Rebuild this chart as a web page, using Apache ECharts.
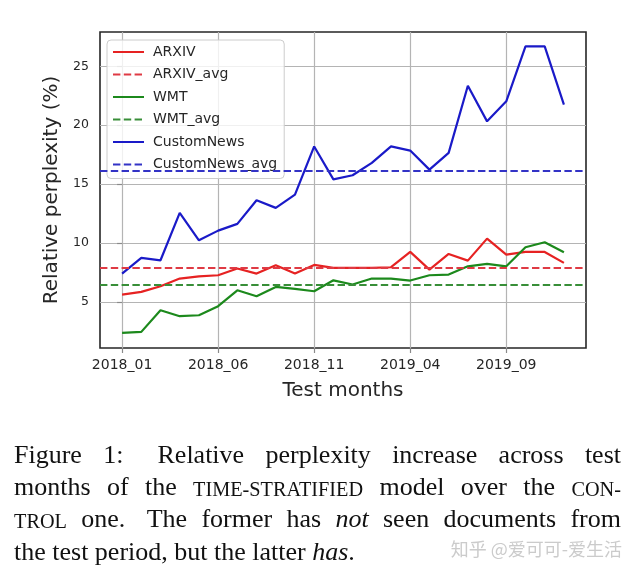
<!DOCTYPE html>
<html><head><meta charset="utf-8">
<script src="https://cdn.jsdelivr.net/npm/echarts@6/dist/echarts.min.js"></script>
<style>html,body{margin:0;padding:0;background:#fff}#c{width:639px;height:575px}</style>
</head><body><div id="c"></div>
<script>
// ---- data ----
const months = ['2018_01','2018_02','2018_03','2018_04','2018_05','2018_06','2018_07','2018_08','2018_09','2018_10','2018_11','2018_12',
                '2019_01','2019_02','2019_03','2019_04','2019_05','2019_06','2019_07','2019_08','2019_09','2019_10','2019_11','2019_12'];
const xTickIdx = [0, 5, 10, 15, 20];
const yTicks = [5, 10, 15, 20, 25];
const arxiv = [5.62,5.85,6.33,6.98,7.17,7.26,7.83,7.40,8.11,7.40,8.14,7.88,7.88,7.88,7.94,9.24,7.74,9.07,8.50,10.37,9.01,9.24,9.24,8.31];
const wmt = [2.37,2.45,4.29,3.78,3.86,4.63,5.98,5.48,6.27,6.10,5.90,6.83,6.47,6.98,6.98,6.81,7.26,7.32,8.02,8.22,8.02,9.64,10.06,9.21];
const customNews = [7.40,8.73,8.53,12.55,10.23,11.05,11.62,13.63,12.98,14.10,18.20,15.40,15.75,16.80,18.20,17.85,16.23,17.65,23.36,20.33,22.03,26.70,26.70,21.75];
const arxivAvg = 7.88;
const wmtAvg = 6.47;
const customNewsAvg = 16.17;
const seriesNames = ['ARXIV','ARXIV_avg','WMT','WMT_avg','CustomNews','CustomNews_avg'];
const xName = 'Test months';
const yName = 'Relative perplexity (%)';
const captionLines = [
  [[['Figure','n']],[['1:','n']],[['Relative','n']],[['perplexity','n']],[['increase','n']],[['across','n']],[['test','n']]],
  [[['months','n']],[['of','n']],[['the','n']],[['TIME-STRATIFIED','sc']],[['model','n']],[['over','n']],[['the','n']],[['CON-','sc']]],
  [[['TROL','sc']],[['one.','n']],[['The','n']],[['former','n']],[['has','n']],[['not','i']],[['seen','n']],[['documents','n']],[['from','n']]],
  [[['the','n']],[['test','n']],[['period,','n']],[['but','n']],[['the','n']],[['latter','n']],[['has','i'],['.','n']]]
];
const watermark = '知乎 @爱可可-爱生活';

// ---- styles ----
const C = {arxiv:'#e62222', arxivAvg:'#df3a44', wmt:'#1c891c', wmtAvg:'#388e38', cn:'#1a1ac8', cnAvg:'#3333c6'};
const dash = [7.4, 3.4];
const LW = 2.2;
function lineSeries(name, vals, color) {
  return {name, type:'line', data: vals.map((v,i)=>[i,v]), symbol:'none', showSymbol:false,
    lineStyle:{color, width:LW}, itemStyle:{color}, z:3, animation:false};
}
function avgSeries(name, value, color) {
  return {name, type:'line', data:[], symbol:'none', showSymbol:false,
    lineStyle:{color, width:LW, type:dash}, itemStyle:{color}, animation:false,
    markLine:{silent:true, symbol:['none','none'], label:{show:false}, animation:false,
      lineStyle:{color, width:LW, type:dash}, data:[{yAxis:value}]}};
}

// ---- caption layout ----
const FS = 26, SC = 0.78;
const famOf = () => 'Liberation Serif';
const sizeOf = s => s==='sc' ? FS*SC : FS;
const styleOf = s => s==='i' ? 'italic' : 'normal';
const ctx = document.createElement('canvas').getContext('2d');
function w(t, s){ ctx.font = `${styleOf(s)} ${sizeOf(s)}px "Liberation Serif"`; return ctx.measureText(t).width; }
const lineLeft = 14, lineRight = 621;
const baselines = [465, 497.3, 529.6, 562];
const extraGap = {'0:1':1.6, '2:1':1.5};
const graphics = [];
captionLines.forEach((words, li) => {
  const ww = words.map(wd => wd.reduce((a,[t,s]) => a + w(t,s), 0));
  const sumW = ww.reduce((a,b)=>a+b,0);
  const weights = words.slice(0,-1).map((_,k) => extraGap[li+':'+k] || 1);
  const sumWt = weights.reduce((a,b)=>a+b,0);
  const last = li === captionLines.length - 1;
  const gap = last ? FS*0.25 : (lineRight - lineLeft - sumW) / sumWt;
  let x = lineLeft;
  words.forEach((wd, k) => {
    wd.forEach(([t,s]) => {
      graphics.push({type:'text', x:x, y:baselines[li] - 0.35*sizeOf(s), silent:true,
        style:{text:t, fontFamily:famOf(), fontSize:sizeOf(s), fontStyle:styleOf(s), fill:'#111', align:'left', verticalAlign:'middle'}});
      x += w(t,s);
    });
    if (k < words.length-1) x += gap * (last ? 1 : weights[k]);
  });
});
graphics.push({type:'text', x:622, y:549, silent:true,
  style:{text:watermark, fontFamily:'Noto Sans CJK SC', fontSize:18, fill:'#cbcbcb', align:'right', verticalAlign:'middle'}});

const chart = echarts.init(document.getElementById('c'), null, {renderer:'canvas'});
chart.setOption({
  animation:false,
  backgroundColor:'#fff',
  grid:{left:100, top:32, width:486, height:316, show:true, borderColor:'#262626', borderWidth:1.6, backgroundColor:'transparent', containLabel:false},
  legend:{orient:'vertical', left:107, top:40, data:seriesNames, itemWidth:31, itemHeight:14, itemGap:8.5,
    padding:[5,7,7,5], backgroundColor:'rgba(255,255,255,0.8)', borderColor:'#cccccc', borderWidth:1, borderRadius:4,
    itemStyle:{opacity:0, color:'transparent', borderWidth:0},
    textStyle:{fontFamily:'DejaVu Sans', fontSize:14, color:'#262626', padding:[0,0,0,4]}, selectedMode:false},
  xAxis:{type:'value', min:-1.15, max:24.15,
    axisLine:{show:false},
    axisTick:{show:true, customValues:xTickIdx, length:5, lineStyle:{color:'#8a8a8a', width:1.2}},
    axisLabel:{customValues:xTickIdx, formatter:v=>months[Math.round(v)], fontFamily:'DejaVu Sans', fontSize:14, color:'#262626', margin:10},
    splitLine:{show:true, lineStyle:{color:'#b4b4b4', width:1.2}},
    name:xName, nameLocation:'middle', nameGap:33, nameTextStyle:{fontFamily:'DejaVu Sans', fontSize:20, color:'#262626'}},
  yAxis:{type:'value', min:1.08, max:27.92,
    axisLine:{show:false},
    axisTick:{show:true, customValues:yTicks, length:5, lineStyle:{color:'#8a8a8a', width:1.2}},
    axisLabel:{customValues:yTicks, fontFamily:'DejaVu Sans', fontSize:12.5, color:'#262626', margin:11},
    splitLine:{show:true, lineStyle:{color:'#b4b4b4', width:1.2}},
    name:yName, nameLocation:'middle', nameGap:38, nameRotate:90, nameTextStyle:{fontFamily:'DejaVu Sans', fontSize:20, color:'#262626'}},
  series:[
    lineSeries('ARXIV', arxiv, C.arxiv),
    avgSeries('ARXIV_avg', arxivAvg, C.arxivAvg),
    lineSeries('WMT', wmt, C.wmt),
    avgSeries('WMT_avg', wmtAvg, C.wmtAvg),
    lineSeries('CustomNews', customNews, C.cn),
    avgSeries('CustomNews_avg', customNewsAvg, C.cnAvg)
  ],
  graphic:graphics
});
</script></body></html>
